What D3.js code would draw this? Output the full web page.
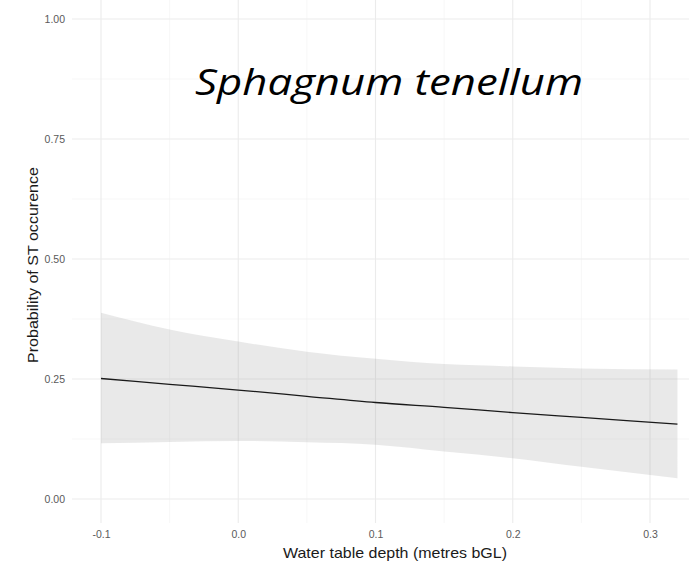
<!DOCTYPE html>
<html>
<head>
<meta charset="utf-8">
<script src="https://cdn.jsdelivr.net/npm/d3@7"></script>
<style>
  body { margin: 0; background: #fff; }
  .tick text { font-family: Arial, "Liberation Sans", sans-serif; }
</style>
</head>
<body>
<div class="chart"></div>
<script>

var svgWidth = 689;
var svgHeight = 565;

// values
var depth = [-0.1, -0.05, 0.0, 0.05, 0.1, 0.15, 0.2, 0.25, 0.32];
var fitProb = [0.251, 0.239, 0.227, 0.214, 0.201, 0.191, 0.180, 0.170, 0.156];
var upperProb = [0.388, 0.353, 0.328, 0.307, 0.292, 0.281, 0.276, 0.272, 0.270];
var lowerProb = [0.116, 0.119, 0.121, 0.118, 0.113, 0.099, 0.085, 0.067, 0.043];

var xTicks = [-0.1, 0.0, 0.1, 0.2, 0.3];
var xMinor = [-0.05, 0.05, 0.15, 0.25];
var yTicks = [0, 0.25, 0.5, 0.75, 1.0];
var yMinor = [0.125, 0.375, 0.625, 0.875];

var panel = {left: 72, right: 689, top: 0, bottom: 523};

var svg = d3.select(".chart")
    .append("svg")
    .attr("width", svgWidth)
    .attr("height", svgHeight);

var xScale = d3.scaleLinear()
    .domain([-0.1, 0.3])
    .range([101, 650]);

var yScale = d3.scaleLinear()
    .domain([0, 1])
    .range([499, 19]);

// grid
var grid = svg.append("g");
grid.selectAll(".xminor").data(xMinor).enter().append("line")
    .attr("x1", function(d) { return xScale(d); })
    .attr("x2", function(d) { return xScale(d); })
    .attr("y1", panel.top).attr("y2", panel.bottom)
    .style("stroke", "#f2f2f2").style("stroke-width", 0.6);
grid.selectAll(".yminor").data(yMinor).enter().append("line")
    .attr("y1", function(d) { return yScale(d); })
    .attr("y2", function(d) { return yScale(d); })
    .attr("x1", panel.left).attr("x2", panel.right)
    .style("stroke", "#f2f2f2").style("stroke-width", 0.6);
grid.selectAll(".xmajor").data(xTicks).enter().append("line")
    .attr("x1", function(d) { return xScale(d); })
    .attr("x2", function(d) { return xScale(d); })
    .attr("y1", panel.top).attr("y2", panel.bottom)
    .style("stroke", "#ebebeb").style("stroke-width", 1.1);
grid.selectAll(".ymajor").data(yTicks).enter().append("line")
    .attr("y1", function(d) { return yScale(d); })
    .attr("y2", function(d) { return yScale(d); })
    .attr("x1", panel.left).attr("x2", panel.right)
    .style("stroke", "#ebebeb").style("stroke-width", 1.1);

var rows = depth.map(function(d, i) {
    return {x: d, fit: fitProb[i], lo: lowerProb[i], hi: upperProb[i]};
});

// ribbon
var area = d3.area()
    .x(function(d) { return xScale(d.x); })
    .y0(function(d) { return yScale(d.lo); })
    .y1(function(d) { return yScale(d.hi); })
    .curve(d3.curveMonotoneX);

svg.append("path")
    .datum(rows)
    .attr("d", area)
    .style("fill", "#999999")
    .style("opacity", 0.22);

// fitted line
var line = d3.line()
    .x(function(d) { return xScale(d.x); })
    .y(function(d) { return yScale(d.fit); })
    .curve(d3.curveMonotoneX);

svg.append("path")
    .datum(rows)
    .attr("d", line)
    .style("fill", "none")
    .style("stroke", "#1a1a1a")
    .style("stroke-width", 1.3);

// axes (no domain or tick marks, theme_minimal look)
var leftAxis = d3.axisLeft(yScale)
    .tickValues(yTicks)
    .tickSize(0)
    .tickPadding(7)
    .tickFormat(d3.format(".2f"));

var bottomAxis = d3.axisBottom(xScale)
    .tickValues(xTicks)
    .tickSize(0)
    .tickPadding(8)
    .tickFormat(d3.format(".1f"));

var ya = svg.append("g")
    .attr("transform", "translate(" + panel.left + ",0)")
    .call(leftAxis);
var xa = svg.append("g")
    .attr("transform", "translate(0," + (panel.bottom + 0) + ")")
    .call(bottomAxis);

[ya, xa].forEach(function(a) {
    a.select(".domain").remove();
    a.selectAll("text")
        .style("font-size", "10.5px")
        .style("fill", "#5a5a5a");
});
xa.selectAll("text").text(function(d) { return d3.format(".1f")(d).replace("−", "-"); });

// axis titles
svg.append("text")
    .attr("x", 395)
    .attr("y", 558)
    .attr("text-anchor", "middle")
    .attr("textLength", 224)
    .attr("lengthAdjust", "spacingAndGlyphs")
    .style("font-family", "Arial, 'Liberation Sans', sans-serif")
    .style("font-size", "14.5px")
    .style("fill", "#1a1a1a")
    .text("Water table depth (metres bGL)");

svg.append("text")
    .attr("transform", "translate(38,265) rotate(-90)")
    .attr("text-anchor", "middle")
    .attr("textLength", 196)
    .attr("lengthAdjust", "spacingAndGlyphs")
    .style("font-family", "Arial, 'Liberation Sans', sans-serif")
    .style("font-size", "14.5px")
    .style("fill", "#1a1a1a")
    .text("Probability of ST occurence");

// species label
svg.append("text")
    .attr("x", 195)
    .attr("y", 95)
    .attr("textLength", 388)
    .attr("lengthAdjust", "spacingAndGlyphs")
    .style("font-family", "'Open Sans', 'DejaVu Sans', sans-serif")
    .style("font-style", "italic")
    .style("font-size", "37px")
    .style("fill", "#000")
    .text("Sphagnum tenellum");

</script>
</body>
</html>
